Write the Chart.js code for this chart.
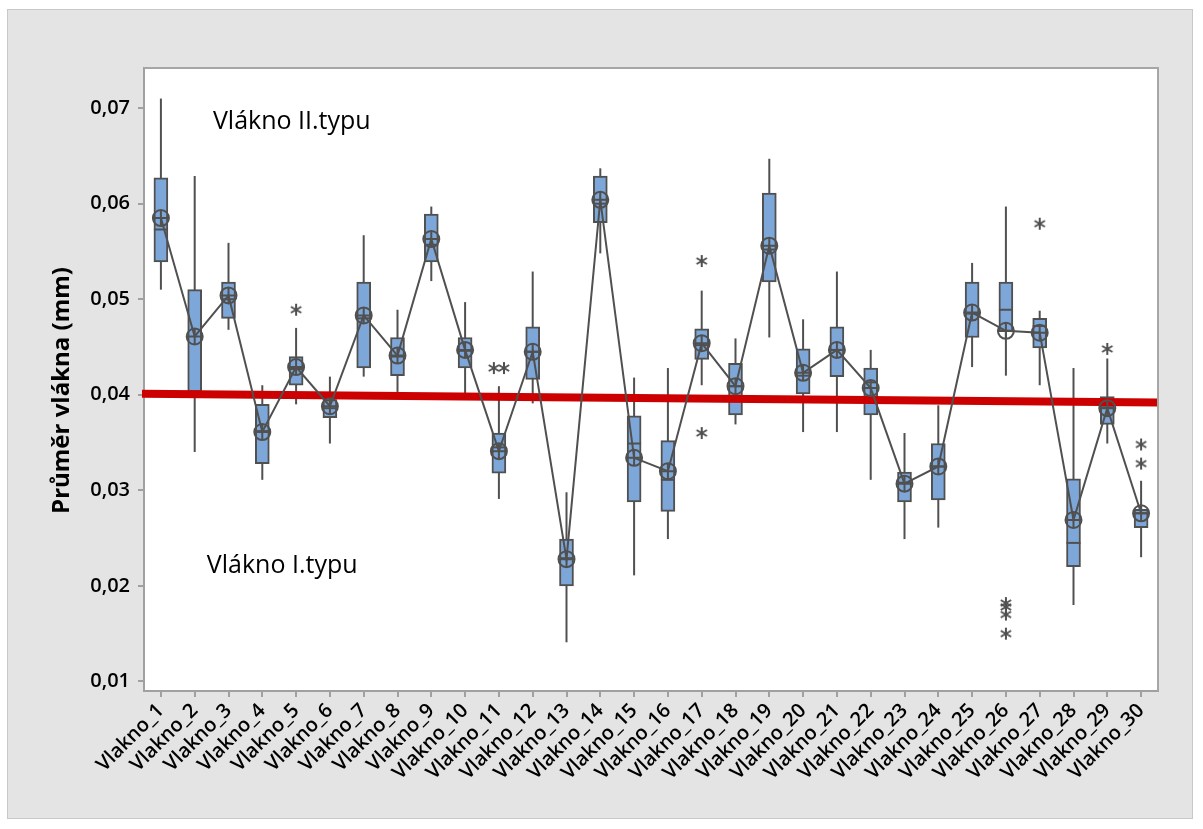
<!DOCTYPE html>
<html lang="cs">
<head>
    <meta charset="UTF-8">
    <title>Průměr vlákna</title>
    <script src="https://cdn.jsdelivr.net/npm/chart.js@4.4.2/dist/chart.umd.min.js"></script>
    <style>
        body {
            margin: 0;
            background: #ffffff;
            font-family: 'Open Sans', sans-serif;
        }
        #frame {
            position: absolute;
            left: 7px;
            top: 9px;
            width: 1184px;
            height: 808px;
            border: 1px solid #c8c8c8;
            background: #e4e4e4;
        }
    </style>
</head>
<body>
<div id="frame"><canvas id="boxChart"></canvas></div>
<script>
    // Data
    const categories = ['Vlakno_1', 'Vlakno_2', 'Vlakno_3', 'Vlakno_4', 'Vlakno_5', 'Vlakno_6', 'Vlakno_7', 'Vlakno_8', 'Vlakno_9', 'Vlakno_10',
        'Vlakno_11', 'Vlakno_12', 'Vlakno_13', 'Vlakno_14', 'Vlakno_15', 'Vlakno_16', 'Vlakno_17', 'Vlakno_18', 'Vlakno_19', 'Vlakno_20',
        'Vlakno_21', 'Vlakno_22', 'Vlakno_23', 'Vlakno_24', 'Vlakno_25', 'Vlakno_26', 'Vlakno_27', 'Vlakno_28', 'Vlakno_29', 'Vlakno_30'];
    const whiskerLow = [0.0510, 0.0340, 0.0468, 0.0311, 0.0390, 0.0349, 0.0419, 0.0403, 0.0519, 0.0400,
        0.0291, 0.0391, 0.0141, 0.0548, 0.0211, 0.0249, 0.0410, 0.0369, 0.0460, 0.0361,
        0.0361, 0.0311, 0.0249, 0.0261, 0.0429, 0.0420, 0.0410, 0.0180, 0.0349, 0.0230];
    const q1 = [0.0539, 0.0403, 0.0480, 0.0328, 0.0410, 0.0376, 0.0428, 0.0420, 0.0539, 0.0428,
        0.0318, 0.0416, 0.0200, 0.0580, 0.0288, 0.0278, 0.0437, 0.0379, 0.0518, 0.0401,
        0.0419, 0.0379, 0.0288, 0.0290, 0.0460, 0.0466, 0.0449, 0.0220, 0.0369, 0.0261];
    const medians = [0.0573, 0.0403, 0.0500, 0.0362, 0.0427, 0.0386, 0.0480, 0.0440, 0.0557, 0.0446,
        0.0345, 0.0445, 0.0229, 0.0600, 0.0349, 0.0311, 0.0452, 0.0409, 0.0552, 0.0420,
        0.0447, 0.0413, 0.0308, 0.0325, 0.0485, 0.0489, 0.0472, 0.0245, 0.0387, 0.0276];
    const q3 = [0.0627, 0.0510, 0.0518, 0.0390, 0.0440, 0.0395, 0.0518, 0.0460, 0.0589, 0.0460,
        0.0360, 0.0471, 0.0249, 0.0629, 0.0378, 0.0352, 0.0469, 0.0433, 0.0611, 0.0448,
        0.0471, 0.0428, 0.0319, 0.0349, 0.0518, 0.0518, 0.0480, 0.0312, 0.0398, 0.0280];
    const whiskerHigh = [0.0710, 0.0629, 0.0559, 0.0410, 0.0470, 0.0419, 0.0567, 0.0489, 0.0597, 0.0497,
        0.0409, 0.0529, 0.0298, 0.0637, 0.0418, 0.0428, 0.0509, 0.0459, 0.0647, 0.0479,
        0.0529, 0.0447, 0.0360, 0.0389, 0.0538, 0.0597, 0.0488, 0.0428, 0.0438, 0.0310];
    const means = [0.0585, 0.0461, 0.0504, 0.0361, 0.0429, 0.0388, 0.0483, 0.0441, 0.0563, 0.0447,
        0.0341, 0.0445, 0.0228, 0.0604, 0.0334, 0.0320, 0.0454, 0.0409, 0.0556, 0.0423,
        0.0447, 0.0407, 0.0307, 0.0325, 0.0486, 0.0467, 0.0465, 0.0269, 0.0386, 0.0276];

    // outliers: position on the 1..30 axis (ties are jittered a little) and value
    const outlierX = [5, 10.85, 11.15, 17, 17, 26, 26, 26, 26, 27, 29, 30, 30];
    const outlierY = [0.0489, 0.0428, 0.0428, 0.0540, 0.0360, 0.0182, 0.0178, 0.0170, 0.0150, 0.0579, 0.0448, 0.0348, 0.0328];

    const yTicks = [0.01, 0.02, 0.03, 0.04, 0.05, 0.06, 0.07];
    const redLine = [0.0401, 0.0392]; // value at left and right edge

    const noteTexts = ['Vlákno II.typu', 'Vlákno I.typu'];
    const noteX = [2.54, 2.36];
    const noteY = [0.0686, 0.0221];
    const yTitle = 'Průměr vlákna (mm)';

    const FONT = "'Open Sans', sans-serif";
    const GREY = '#505050';
    const pos = categories.map((c, i) => i + 1);

    // asterisk marker for outliers
    function makeStar(r) {
        const c = document.createElement('canvas');
        const s = 2 * r + 4;
        c.width = s;
        c.height = s;
        const g = c.getContext('2d');
        g.strokeStyle = GREY;
        g.lineWidth = 2;
        g.translate(s / 2, s / 2);
        [90, 30, 150].forEach(a => {
            const rad = a * Math.PI / 180;
            g.beginPath();
            g.moveTo(-r * Math.cos(rad), -r * Math.sin(rad));
            g.lineTo(r * Math.cos(rad), r * Math.sin(rad));
            g.stroke();
        });
        return c;
    }

    const boxExtras = {
        id: 'boxExtras',
        beforeDraw(chart) {
            const {ctx, chartArea: a} = chart;
            ctx.save();
            ctx.fillStyle = '#ffffff';
            ctx.fillRect(a.left, a.top, a.width, a.height);
            ctx.restore();
        },
        beforeDatasetsDraw(chart) {
            // whiskers, the boxes are painted over them
            const {ctx, scales: {x, y}} = chart;
            ctx.save();
            ctx.strokeStyle = GREY;
            ctx.lineWidth = 2;
            pos.forEach((p, i) => {
                const px = x.getPixelForValue(p);
                ctx.beginPath();
                ctx.moveTo(px, y.getPixelForValue(whiskerLow[i]));
                ctx.lineTo(px, y.getPixelForValue(whiskerHigh[i]));
                ctx.stroke();
            });
            ctx.restore();
        },
        afterDatasetDraw(chart, args) {
            if (args.index !== 0) return;
            const {ctx, chartArea: a, scales: {x, y}} = chart;
            ctx.save();
            // medians
            ctx.strokeStyle = GREY;
            ctx.lineWidth = 2;
            pos.forEach((p, i) => {
                const px = x.getPixelForValue(p);
                const py = y.getPixelForValue(medians[i]);
                ctx.beginPath();
                ctx.moveTo(px - 7, py);
                ctx.lineTo(px + 7, py);
                ctx.stroke();
            });
            // red reference line
            ctx.strokeStyle = '#cc0000';
            ctx.lineWidth = 8;
            ctx.beginPath();
            ctx.moveTo(a.left - 2, y.getPixelForValue(redLine[0]));
            ctx.lineTo(a.right, y.getPixelForValue(redLine[1]));
            ctx.stroke();
            ctx.restore();
        },
        afterDraw(chart) {
            const {ctx, chartArea: a, scales: {x, y}} = chart;
            ctx.save();
            ctx.strokeStyle = '#a6a6a6';
            ctx.lineWidth = 2;
            ctx.beginPath();
            ctx.moveTo(a.left, a.top);
            ctx.lineTo(a.right, a.top);
            ctx.lineTo(a.right, a.bottom);
            ctx.stroke();
            ctx.fillStyle = '#000000';
            ctx.font = '25px ' + FONT;
            ctx.textAlign = 'left';
            ctx.textBaseline = 'middle';
            noteTexts.forEach((t, i) => {
                ctx.fillText(t, x.getPixelForValue(noteX[i]), y.getPixelForValue(noteY[i]));
            });
            // y axis title, sits a little below the plot centre like the original
            ctx.font = 'bold 24px ' + FONT;
            ctx.textAlign = 'center';
            ctx.translate(54, (a.top + a.bottom) / 2 + 11);
            ctx.rotate(-Math.PI / 2);
            ctx.fillText(yTitle, 0, 0);
            ctx.restore();
        }
    };

    const axisGrid = {
        offset: false,
        drawOnChartArea: false,
        drawTicks: true,
        tickLength: 6,
        color: '#a0a0a0',
        lineWidth: 2
    };

    new Chart(document.getElementById('boxChart'), {
        type: 'bar',
        data: {
            datasets: [
                {
                    type: 'bar',
                    data: pos.map((p, i) => ({x: p, y: [q1[i], q3[i]]})),
                    backgroundColor: '#7da7d9',
                    borderColor: GREY,
                    borderWidth: 2,
                    borderSkipped: false,
                    barThickness: 14,
                    order: 3
                },
                {
                    type: 'line',
                    data: pos.map((p, i) => ({x: p, y: means[i]})),
                    borderColor: GREY,
                    borderWidth: 2,
                    tension: 0,
                    pointStyle: 'circle',
                    pointRadius: 8,
                    pointBorderWidth: 2,
                    pointBorderColor: GREY,
                    pointBackgroundColor: 'rgba(0,0,0,0)',
                    order: 2
                },
                {
                    type: 'line',
                    data: pos.map((p, i) => ({x: p, y: means[i]})),
                    showLine: false,
                    pointStyle: 'cross',
                    pointRadius: 8,
                    pointBorderWidth: 2,
                    pointBorderColor: GREY,
                    order: 1
                },
                {
                    type: 'scatter',
                    data: outlierX.map((v, i) => ({x: v, y: outlierY[i]})),
                    pointStyle: makeStar(6),
                    pointRadius: 6,
                    order: 0
                }
            ]
        },
        options: {
            responsive: true,
            maintainAspectRatio: false,
            animation: false,
            layout: {padding: {left: 0, top: 58, right: 34, bottom: 0}},
            plugins: {
                legend: {display: false},
                tooltip: {enabled: false}
            },
            scales: {
                x: {
                    type: 'linear',
                    min: 0.5,
                    max: 30.5,
                    offset: false,
                    afterBuildTicks: s => { s.ticks = pos.map(p => ({value: p})); },
                    grid: axisGrid,
                    border: {display: true, color: '#a0a0a0', width: 2},
                    ticks: {
                        autoSkip: false,
                        minRotation: 45,
                        maxRotation: 45,
                        padding: 2,
                        color: '#000000',
                        font: {family: FONT, size: 20, weight: '600'},
                        callback: v => categories[v - 1]
                    },
                    afterFit: s => { s.height = 127; }
                },
                y: {
                    min: 0.009,
                    max: 0.0742,
                    afterBuildTicks: s => { s.ticks = yTicks.map(v => ({value: v})); },
                    grid: axisGrid,
                    border: {display: true, color: '#a0a0a0', width: 2},
                    ticks: {
                        padding: 8,
                        color: '#000000',
                        font: {family: FONT, size: 20, weight: '600'},
                        callback: v => v.toFixed(2).replace('.', ',')
                    },
                    afterFit: s => { s.width = 136; }
                }
            }
        },
        plugins: [boxExtras]
    });
</script>
</body>
</html>
